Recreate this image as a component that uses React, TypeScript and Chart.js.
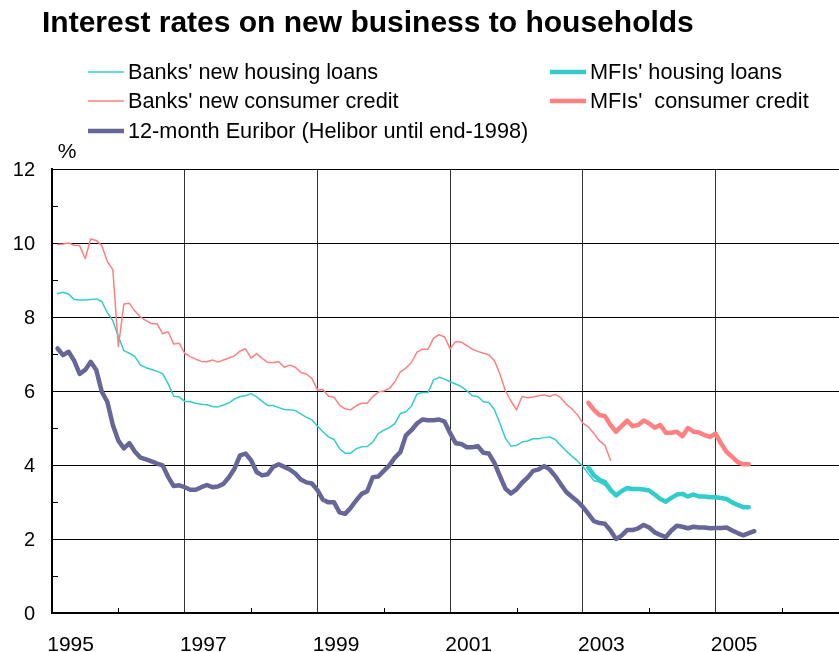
import { useEffect, useRef } from "react";
import { Chart, registerables } from "chart.js";

Chart.register(...registerables);

const FONT = '"Liberation Sans", Arial, Helvetica, sans-serif';

const TITLE = "Interest rates on new business to households";
const Y_UNIT = "%";
const X_LABELS = [1995, 1997, 1999, 2001, 2003, 2005];
const Y_LABELS = [0, 2, 4, 6, 8, 10, 12];

// Monthly series, first value = January of the start year
const banksHousingStart = 1995;
const banksHousing = [
  8.63, 8.67, 8.62, 8.47, 8.46, 8.46, 8.47, 8.49, 8.42, 8.12, 7.9, 7.47,
  7.09, 7.02, 6.93, 6.7, 6.63, 6.58, 6.53, 6.47, 6.2, 5.86, 5.84, 5.72,
  5.71, 5.67, 5.64, 5.63, 5.58, 5.57, 5.62, 5.68, 5.78, 5.85, 5.87, 5.93,
  5.84, 5.72, 5.61, 5.61, 5.55, 5.5, 5.49, 5.47, 5.38, 5.29, 5.22, 5.05,
  4.9, 4.76, 4.69, 4.44, 4.32, 4.32, 4.44, 4.49, 4.5, 4.62, 4.85, 4.94,
  5.01, 5.12, 5.39, 5.44, 5.59, 5.92, 5.96, 5.96, 6.3, 6.37, 6.32, 6.25,
  6.19, 6.12, 6.01, 5.87, 5.85, 5.71, 5.69, 5.5, 5.12, 4.72, 4.51, 4.53,
  4.62, 4.65, 4.71, 4.71, 4.74, 4.76, 4.69, 4.53, 4.38, 4.24, 4.11, 3.96,
  3.76, 3.58, 3.54, 3.45, 3.27,
];

const banksConsumerStart = 1995;
const banksConsumer = [
  9.96, 9.97, 10.0, 9.94, 9.93, 9.58, 10.11, 10.07, 9.93, 9.5, 9.28, 7.2,
  8.35, 8.37, 8.16, 8.0, 7.9, 7.82, 7.82, 7.55, 7.6, 7.27, 7.29, 7.02,
  6.93, 6.86, 6.8, 6.79, 6.84, 6.78, 6.84, 6.89, 6.95, 7.08, 7.14, 6.89,
  7.01, 6.88, 6.77, 6.77, 6.79, 6.64, 6.7, 6.64, 6.5, 6.46, 6.34, 6.03,
  6.04, 5.86, 5.83, 5.62, 5.52, 5.49, 5.6, 5.67, 5.67, 5.85, 5.97, 6.0,
  6.07, 6.25, 6.52, 6.62, 6.77, 7.05, 7.13, 7.13, 7.43, 7.52, 7.46, 7.14,
  7.34, 7.32, 7.23, 7.13, 7.07, 7.02, 6.98, 6.82, 6.46, 6.0, 5.73, 5.49,
  5.85, 5.82, 5.84, 5.87, 5.89, 5.85, 5.91, 5.82, 5.64, 5.52, 5.36, 5.13,
  5.03, 4.85, 4.65, 4.53, 4.13,
];

const euriborStart = 1995;
const euribor = [
  7.15, 6.97, 7.06, 6.82, 6.46, 6.57, 6.79, 6.57, 5.98, 5.71, 5.08, 4.66,
  4.45, 4.59, 4.36, 4.2, 4.15, 4.1, 4.04, 3.99, 3.68, 3.43, 3.45, 3.4,
  3.33, 3.33, 3.4, 3.46, 3.4, 3.42, 3.49, 3.67, 3.9, 4.26, 4.31, 4.13,
  3.81, 3.72, 3.75, 3.95, 4.02, 3.95, 3.88, 3.77, 3.61, 3.53, 3.5, 3.32,
  3.06, 2.99, 2.99, 2.72, 2.68, 2.84, 3.04, 3.22, 3.29, 3.67, 3.69, 3.84,
  3.99, 4.2, 4.35, 4.8, 4.94, 5.12, 5.23, 5.21, 5.21, 5.23, 5.17, 4.86,
  4.59, 4.57, 4.48, 4.48, 4.51, 4.33, 4.31, 4.06, 3.7, 3.36, 3.23, 3.34,
  3.52, 3.66, 3.84, 3.88, 3.97, 3.88, 3.7, 3.48, 3.27, 3.14, 3.02, 2.87,
  2.68, 2.48, 2.43, 2.41, 2.23, 2.0, 2.09, 2.24, 2.24, 2.29, 2.38, 2.31,
  2.18, 2.11, 2.05, 2.23, 2.36, 2.33, 2.29, 2.33, 2.31, 2.31, 2.29, 2.3,
  2.3, 2.31, 2.23, 2.16, 2.1, 2.16, 2.21,
];

const mfiHousingStart = 2003;
const mfiHousing = [
  3.93, 3.72, 3.6, 3.54, 3.33, 3.18, 3.29, 3.38, 3.35, 3.35, 3.34, 3.31,
  3.2, 3.08, 3.01, 3.11, 3.2, 3.22, 3.15, 3.2, 3.15, 3.15, 3.13, 3.13,
  3.11, 3.08, 2.99, 2.92, 2.86, 2.86,
];

const mfiConsumerStart = 2003;
const mfiConsumer = [
  5.68, 5.49, 5.35, 5.32, 5.08, 4.9, 5.05, 5.2, 5.05, 5.08, 5.2, 5.12,
  5.01, 5.08, 4.87, 4.87, 4.9, 4.78, 5.0, 4.9, 4.88, 4.81, 4.76, 4.85,
  4.58, 4.35, 4.22, 4.08, 4.02, 4.02,
];

const TEAL = "#33CCCC";
const SALMON = "#FF8080";
const PURPLE = "#666699";

function toPoints(startYear: number, values: number[]) {
  return values.map((v, i) => ({ x: startYear + (i + 1) / 12, y: v }));
}

type LegendItem = { label: string; color: string; width: number; col: number; row: number };

const legendItems: LegendItem[] = [
  { label: "Banks' new housing loans", color: TEAL, width: 1.5, col: 0, row: 0 },
  { label: "Banks' new consumer credit", color: SALMON, width: 1.5, col: 0, row: 1 },
  { label: "12-month Euribor (Helibor until end-1998)", color: PURPLE, width: 4.5, col: 0, row: 2 },
  { label: "MFIs' housing loans", color: TEAL, width: 4.5, col: 1, row: 0 },
  { label: "MFIs'  consumer credit", color: SALMON, width: 4.5, col: 1, row: 1 },
];

const decorPlugin = {
  id: "decor",
  beforeDraw(chart: any) {
    const ctx = chart.ctx;
    ctx.save();
    ctx.fillStyle = "#fff";
    ctx.fillRect(0, 0, chart.width, chart.height);
    ctx.restore();
  },
  afterDraw(chart: any) {
    const ctx: CanvasRenderingContext2D = chart.ctx;
    const xs = chart.scales.x;
    const ys = chart.scales.y;
    const area = chart.chartArea;
    ctx.save();

    // minor ticks (inside)
    ctx.strokeStyle = "#000";
    ctx.lineWidth = 1;
    for (let yr = 1996; yr <= 2006; yr++) {
      if (yr % 2 === 1) continue;
      const px = Math.round(xs.getPixelForValue(yr)) + 0.5;
      ctx.beginPath();
      ctx.moveTo(px, area.bottom);
      ctx.lineTo(px, area.bottom - 5);
      ctx.stroke();
    }
    for (let v = 1; v < 12; v += 2) {
      const py = Math.round(ys.getPixelForValue(v)) + 0.5;
      ctx.beginPath();
      ctx.moveTo(area.left, py);
      ctx.lineTo(area.left + 6, py);
      ctx.stroke();
    }

    ctx.fillStyle = "#000";
    // y labels
    ctx.font = `20px ${FONT}`;
    ctx.textAlign = "right";
    ctx.textBaseline = "middle";
    for (const v of Y_LABELS) {
      ctx.fillText(String(v), 35, ys.getPixelForValue(v) + 1);
    }
    // x labels
    ctx.font = `21px ${FONT}`;
    ctx.textAlign = "center";
    ctx.textBaseline = "alphabetic";
    for (const yr of X_LABELS) {
      ctx.fillText(String(yr), xs.getPixelForValue(yr + 0.28), 651);
    }
    // unit
    ctx.font = `21px ${FONT}`;
    ctx.textAlign = "center";
    ctx.textBaseline = "middle";
    ctx.fillText(Y_UNIT, 67, 152);

    // title
    ctx.font = `bold 30px ${FONT}`;
    ctx.textAlign = "left";
    ctx.textBaseline = "alphabetic";
    ctx.fillText(TITLE, 42, 32);

    // legend
    const colLine = [88, 550];
    const rowY = [72, 101, 131];
    ctx.font = `21.7px ${FONT}`;
    ctx.textBaseline = "middle";
    for (const it of legendItems) {
      const lx = colLine[it.col];
      const ly = rowY[it.row];
      ctx.strokeStyle = it.color;
      ctx.lineWidth = it.width;
      ctx.lineCap = "butt";
      ctx.beginPath();
      ctx.moveTo(lx, ly);
      ctx.lineTo(lx + 36, ly);
      ctx.stroke();
      ctx.fillStyle = "#000";
      ctx.fillText(it.label, lx + 40, ly + 1);
    }
    ctx.restore();
  },
};

export default function App() {
  const ref = useRef<HTMLCanvasElement | null>(null);
  useEffect(() => {
    if (!ref.current) return;
    const common = {
      pointRadius: 0,
      tension: 0,
      fill: false,
      borderJoinStyle: "round" as const,
      borderCapStyle: "round" as const,
    };
    const chart = new Chart(ref.current, {
      type: "line",
      data: {
        datasets: [
          { ...common, label: "Banks' new housing loans", data: toPoints(banksHousingStart, banksHousing), borderColor: TEAL, borderWidth: 1.5, order: 5 },
          { ...common, label: "Banks' new consumer credit", data: toPoints(banksConsumerStart, banksConsumer), borderColor: SALMON, borderWidth: 1.5, order: 4 },
          { ...common, label: "MFIs' housing loans", data: toPoints(mfiHousingStart, mfiHousing), borderColor: TEAL, borderWidth: 4.5, order: 3 },
          { ...common, label: "MFIs'  consumer credit", data: toPoints(mfiConsumerStart, mfiConsumer), borderColor: SALMON, borderWidth: 4.5, order: 2 },
          { ...common, label: "12-month Euribor (Helibor until end-1998)", data: toPoints(euriborStart, euribor), borderColor: PURPLE, borderWidth: 4.5, order: 1 },
        ],
      },
      options: {
        responsive: false,
        maintainAspectRatio: false,
        animation: false,
        devicePixelRatio: 1,
        layout: { padding: { left: 52, top: 169, right: 0, bottom: 39 } },
        plugins: { legend: { display: false }, tooltip: { enabled: false }, title: { display: false } },
        scales: {
          x: {
            type: "linear",
            min: 1995,
            max: 2006.86,
            afterFit: (s: any) => { s.height = 0; },
            afterBuildTicks: (s: any) => { s.ticks = X_LABELS.map((v) => ({ value: v })); },
            ticks: { display: false },
            grid: { color: "#333", lineWidth: 1, drawTicks: false },
            border: { display: true, color: "#000", width: 2 },
          },
          y: {
            type: "linear",
            min: 0,
            max: 12,
            afterFit: (s: any) => { s.width = 0; },
            ticks: { display: false, stepSize: 2 },
            grid: { color: "#000", lineWidth: 1, drawTicks: false },
            border: { display: true, color: "#000", width: 2 },
          },
        },
      },
      plugins: [decorPlugin],
    });
    return () => chart.destroy();
  }, []);
  return (
    <div style={{ position: "absolute", left: 0, top: 0, width: 839, height: 652, background: "#fff" }}>
      <canvas ref={ref} width={839} height={652} style={{ display: "block", width: 839, height: 652 }} />
    </div>
  );
}
